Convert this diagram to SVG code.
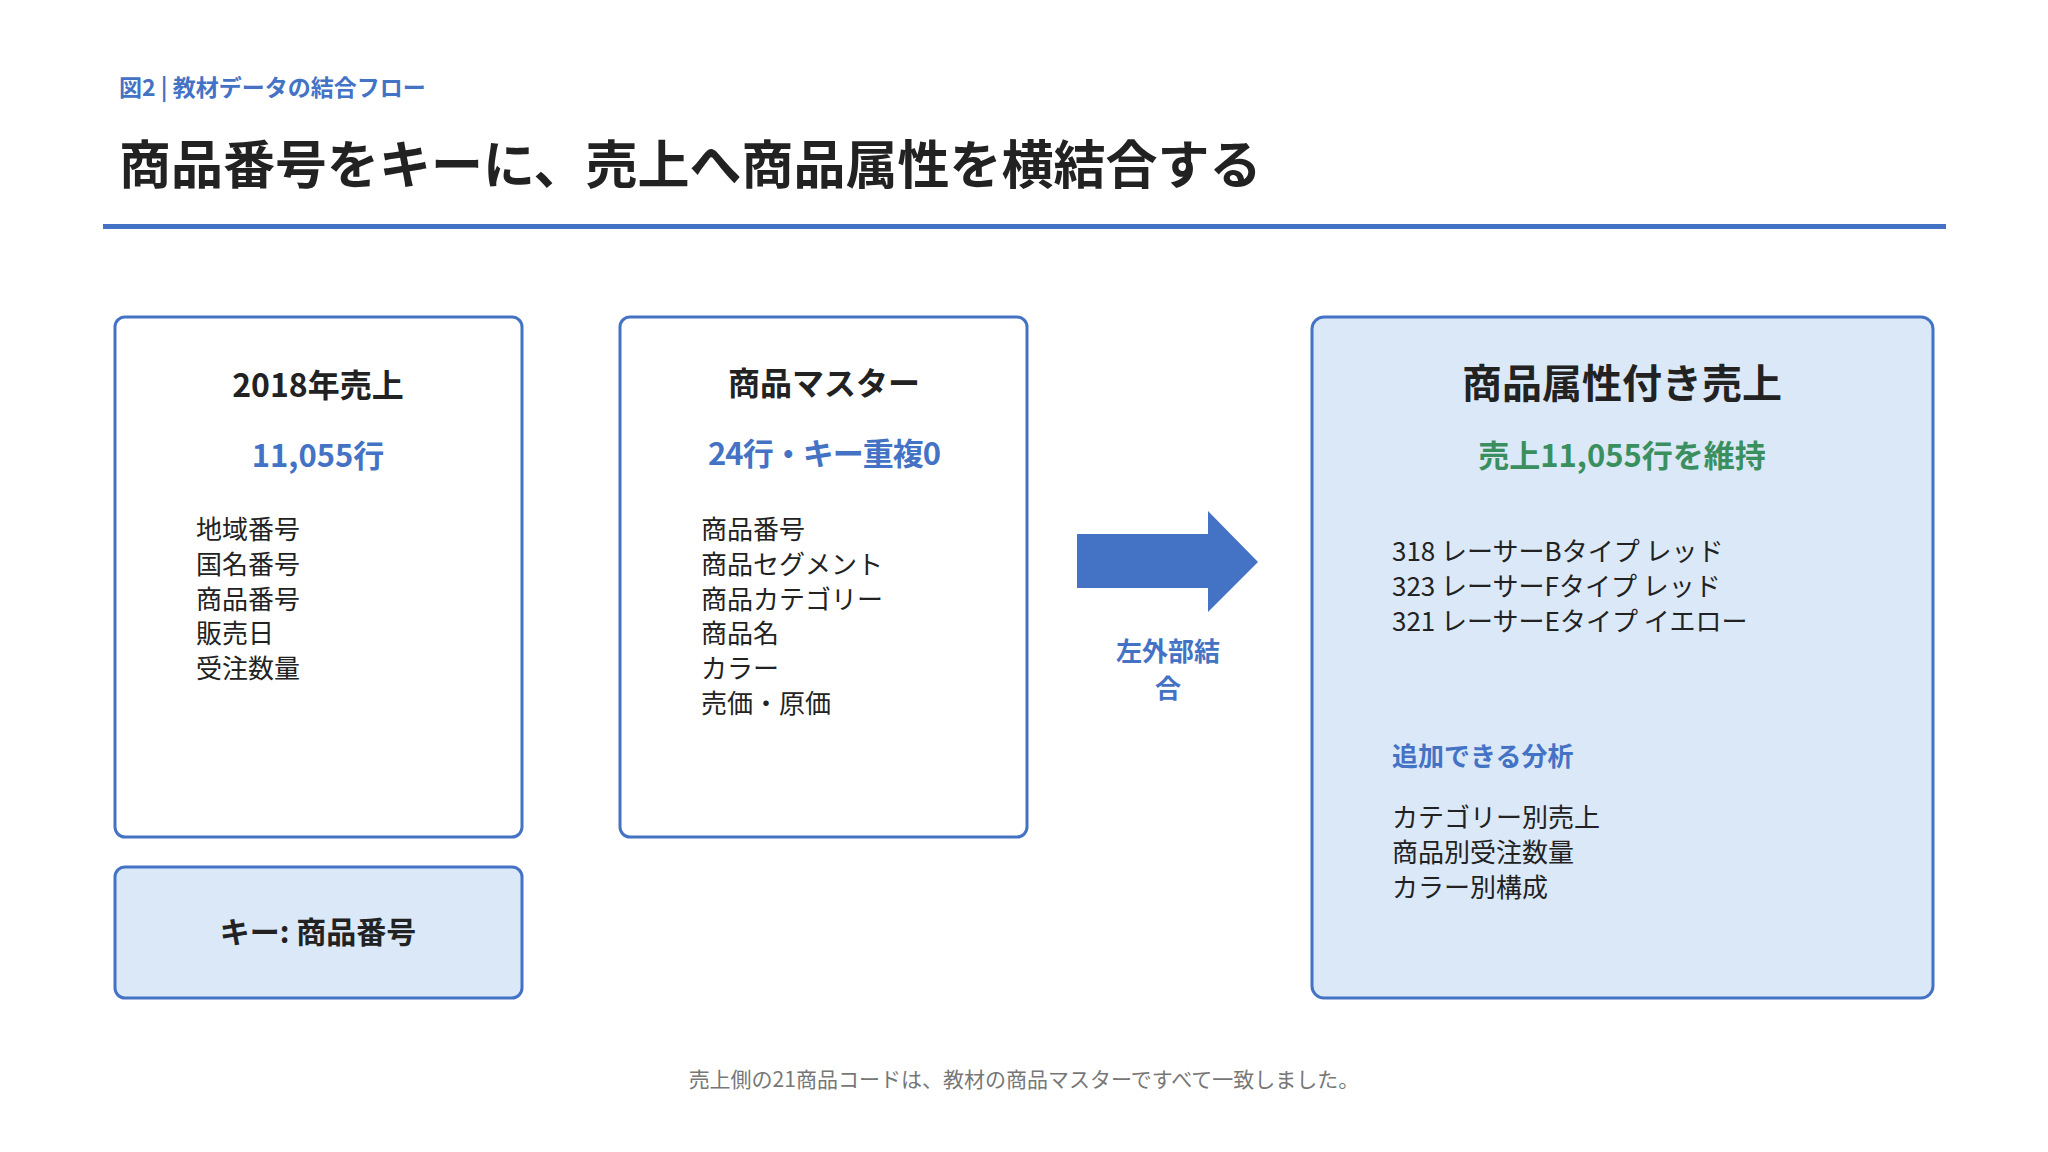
<svg xmlns="http://www.w3.org/2000/svg" width="2048" height="1152" viewBox="0 0 2048 1152">
<style>
text{font-family:"Noto Sans CJK JP","Noto Sans",sans-serif;fill:#222}
.box{fill:#fff;stroke:#4472c4;stroke-width:3}
.fill{fill:#dae8f7;stroke:#4472c4;stroke-width:3}
.t{font-size:32px;font-weight:bold;text-anchor:middle}
.n{font-size:31px;font-weight:bold;fill:#4472c4;text-anchor:middle}
.li{font-size:26px}
.blue{fill:#4472c4}
</style>
<rect width="2048" height="1152" fill="#fff"/>
<text x="119" y="96" font-size="23" font-weight="bold" style="fill:#4472c4">図2 | 教材データの結合フロー</text>
<text x="119" y="184" font-size="52" font-weight="bold">商品番号をキーに、売上へ商品属性を横結合する</text>
<rect x="103" y="224" width="1843" height="5" fill="#4472c4"/>
<g id="sales">
<rect class="box" x="115" y="317" width="407" height="520" rx="10"/>
<text class="t" x="318" y="397">2018年売上</text>
<text class="n" x="318" y="467">11,055行</text>
<text class="li" x="196" y="539">地域番号</text>
<text class="li" x="196" y="574">国名番号</text>
<text class="li" x="196" y="609">商品番号</text>
<text class="li" x="196" y="643">販売日</text>
<text class="li" x="196" y="678">受注数量</text>
</g>
<g id="key">
<rect class="fill" x="115" y="867" width="407" height="131" rx="10"/>
<text class="t" x="318" y="943" style="font-size:30px">キー: 商品番号</text>
</g>
<g id="master">
<rect class="box" x="620" y="317" width="407" height="520" rx="10"/>
<text class="t" x="824" y="395">商品マスター</text>
<text class="n" x="824" y="465" letter-spacing="-1">24行・キー重複0</text>
<text class="li" x="701" y="539">商品番号</text>
<text class="li" x="701" y="574">商品セグメント</text>
<text class="li" x="701" y="609">商品カテゴリー</text>
<text class="li" x="701" y="643">商品名</text>
<text class="li" x="701" y="678">カラー</text>
<text class="li" x="701" y="713">売価・原価</text>
</g>
<g id="connectors">
<polygon points="1077,534 1208,534 1208,511 1258,562 1208,612 1208,588 1077,588" fill="#4472c4"/>
<text x="1168" y="661" font-size="26" font-weight="bold" text-anchor="middle" style="fill:#4472c4">左外部結</text>
<text x="1168" y="698" font-size="26" font-weight="bold" text-anchor="middle" style="fill:#4472c4">合</text>
</g>
<g id="result">
<rect class="fill" x="1312" y="317" width="621" height="681" rx="12"/>
<text class="t" x="1622" y="398" style="font-size:40px">商品属性付き売上</text>
<text class="n" x="1622" y="467" style="fill:#3a8f5f">売上11,055行を維持</text>
<text class="li" x="1392" y="561">318  レーサーBタイプ  レッド</text>
<text class="li" x="1392" y="596">323  レーサーFタイプ  レッド</text>
<text class="li" x="1392" y="631">321  レーサーEタイプ  イエロー</text>
<text x="1392" y="766" font-size="26" font-weight="bold" style="fill:#4472c4">追加できる分析</text>
<text class="li" x="1392" y="827">カテゴリー別売上</text>
<text class="li" x="1392" y="862">商品別受注数量</text>
<text class="li" x="1392" y="897">カラー別構成</text>
</g>
<text x="1024" y="1087" font-size="21" text-anchor="middle" style="fill:#777">売上側の21商品コードは、教材の商品マスターですべて一致しました。</text>
</svg>
